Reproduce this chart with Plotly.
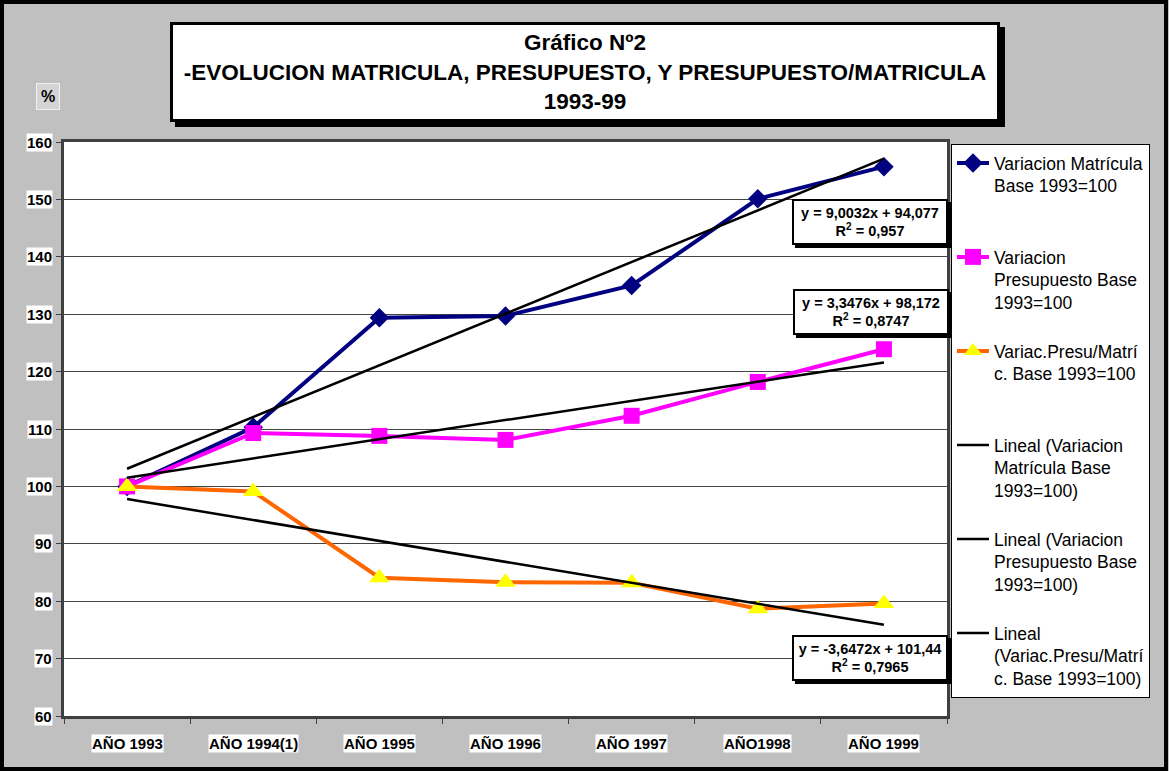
import plotly.graph_objects as go

# Datos (base 1993 = 100)
anios = ["AÑO 1993", "AÑO 1994(1)", "AÑO 1995", "AÑO 1996", "AÑO 1997", "AÑO1998", "AÑO 1999"]
matricula = [100, 110.3, 129.4, 129.7, 135.0, 150.1, 155.7]
presupuesto = [100, 109.3, 108.8, 108.1, 112.3, 118.2, 123.9]
presu_matric = [100, 99.1, 84.1, 83.3, 83.2, 78.7, 79.6]

# lineas de tendencia tal como salen en las etiquetas de Excel (x = 1..7)
pendientes = [9.0032, 3.3476, -3.6472]
intercepts = [94.077, 98.172, 101.44]
ecuaciones = [
    "y = 9,0032x + 94,077<br>R<sup>2</sup> = 0,957",
    "y = 3,3476x + 98,172<br>R<sup>2</sup> = 0,8747",
    "y = -3,6472x + 101,44<br>R<sup>2</sup> = 0,7965",
]
y_ticks = [60, 70, 80, 90, 100, 110, 120, 130, 140, 150, 160]

FONT = "Liberation Sans, Arial, sans-serif"


def nombre(txt, lineas=4):
    # rellena con lineas vacias para que la leyenda quede espaciada como en Excel
    n = txt.count("<br>") + 1
    return txt + "<br> " * (lineas - n)


fig = go.Figure()

fig.add_trace(go.Scatter(
    x=anios, y=matricula, mode="lines+markers",
    name=nombre("Variacion Matrícula<br>Base 1993=100"), legendgroup="a",
    line=dict(color="#000080", width=4),
    marker=dict(symbol="diamond", size=15, color="#000080"),
))
fig.add_trace(go.Scatter(
    x=anios, y=presupuesto, mode="lines+markers",
    name=nombre("Variacion<br>Presupuesto Base<br>1993=100"), legendgroup="b",
    line=dict(color="#FF00FF", width=4),
    marker=dict(symbol="square", size=16, color="#FF00FF"),
))
fig.add_trace(go.Scatter(
    x=anios, y=presu_matric, mode="lines+markers",
    name=nombre("Variac.Presu/Matrí<br>c. Base 1993=100"), legendgroup="c",
    line=dict(color="#FF6600", width=4),
    marker=dict(symbol="triangle-up", size=18, color="#FFFF00"),
))

nombres_tend = [
    "Lineal (Variacion<br>Matrícula Base<br>1993=100)",
    "Lineal (Variacion<br>Presupuesto Base<br>1993=100)",
    "Lineal<br>(Variac.Presu/Matrí<br>c. Base 1993=100)",
]
for i, (m, b) in enumerate(zip(pendientes, intercepts)):
    ys = [m * (k + 1) + b for k in range(len(anios))]
    fig.add_trace(go.Scatter(
        x=anios, y=ys, mode="lines",
        name=nombre(nombres_tend[i], 4 if i < 2 else 3), legendgroup="t%d" % i,
        line=dict(color="black", width=2.5),
    ))

annots = []

# titulo con sombra (la sombra es una caja negra sin texto)
titulo = "<b>Gráfico Nº2<br>-EVOLUCION MATRICULA, PRESUPUESTO, Y PRESUPUESTO/MATRICULA<br>1993-99</b>"
for sombra in (True, False):
    annots.append(dict(
        text=" " if sombra else titulo, xref="paper", yref="paper", x=0.5895, y=1.1225,
        xanchor="center", yanchor="middle", showarrow=False,
        width=824, height=94, borderpad=0, borderwidth=3,
        bordercolor="black", bgcolor="black" if sombra else "white",
        font=dict(family=FONT, size=22.5, color="black"),
        xshift=5 if sombra else 0, yshift=-5 if sombra else 0,
    ))

# cajitas con ecuaciones de tendencia
pos_ec = [(0.913, 0.861), (0.914, 0.704), (0.913, 0.101)]
for txt, (px_, py_) in zip(ecuaciones, pos_ec):
    for sombra in (True, False):
        annots.append(dict(
            text=" " if sombra else "<b>" + txt + "</b>",
            xref="paper", yref="paper", x=px_, y=py_,
            xanchor="center", yanchor="middle", showarrow=False,
            width=150, height=40, borderpad=1, borderwidth=2,
            bordercolor="black", bgcolor="black" if sombra else "white",
            font=dict(family=FONT, size=14.5, color="black"),
            xshift=3 if sombra else 0, yshift=-3 if sombra else 0,
        ))

# "%" del eje y
annots.append(dict(
    text="<b>%</b>", xref="paper", yref="paper", x=-0.018, y=1.079,
    xanchor="center", yanchor="middle", showarrow=False,
    bgcolor="#D4D4D4", bordercolor="#F0F0F0", borderwidth=1, borderpad=4,
    font=dict(family=FONT, size=16, color="black"),
))

# etiquetas de los ejes con fondo blanco (estilo Excel)
for v in y_ticks:
    annots.append(dict(
        text="<b>%d</b>" % v, xref="paper", yref="y", x=0, y=v,
        xanchor="right", yanchor="middle", xshift=-11, showarrow=False,
        bgcolor="white", borderpad=0,
        font=dict(family=FONT, size=15, color="black"),
    ))
for a in anios:
    annots.append(dict(
        text="<b>%s</b>" % a, xref="x", yref="paper", x=a, y=0,
        xanchor="center", yanchor="middle", yshift=-27, showarrow=False,
        bgcolor="white", borderpad=0,
        font=dict(family=FONT, size=15, color="black"),
    ))

fig.update_layout(
    width=1169, height=771,
    margin=dict(l=64, r=222, t=142, b=55),
    paper_bgcolor="#C0C0C0", plot_bgcolor="white",
    font=dict(family=FONT, color="black"),
    annotations=annots,
    legend=dict(
        x=1.0045, y=0.9965, xanchor="left", yanchor="top",
        bgcolor="white", bordercolor="black", borderwidth=1,
        font=dict(family=FONT, size=17.5, color="black"),
        tracegroupgap=0, valign="top", itemwidth=32,
    ),
    shapes=[dict(
        type="rect", xref="paper", yref="paper",
        x0=(2 - 64) / 883, x1=(1166 - 64) / 883,
        y0=(716 - 769) / 574, y1=(716 - 2) / 574,
        line=dict(color="black", width=4), layer="below",
    )],
)

fig.update_xaxes(
    type="category", range=[-0.5, 6.5], showticklabels=False,
    showline=True, linewidth=3, linecolor="#404040", mirror=True,
    ticks="outside", tickson="boundaries", ticklen=5, tickcolor="#404040",
    showgrid=False, zeroline=False,
)
fig.update_yaxes(
    range=[60, 160], tickvals=y_ticks, showticklabels=False,
    showline=True, linewidth=3, linecolor="#404040", mirror=True,
    ticks="outside", ticklen=5, tickcolor="#404040",
    showgrid=True, gridcolor="#444444", gridwidth=1, zeroline=False,
)

# sin margen del body para que la figura empiece en 0,0
fig.write_html("out.html", config={"displayModeBar": False},
               post_script="document.body.style.margin='0';")
